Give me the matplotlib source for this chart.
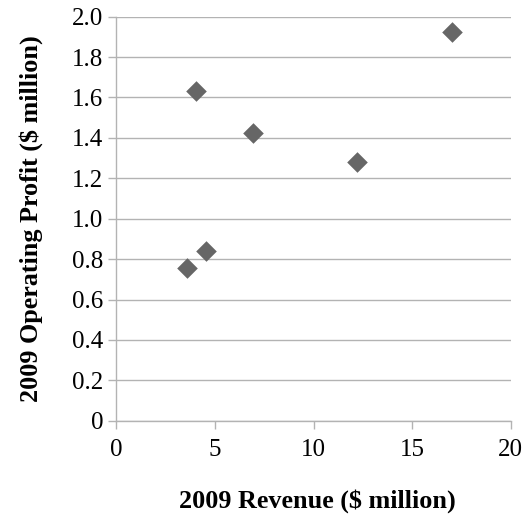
import matplotlib
matplotlib.use("Agg")
import matplotlib.pyplot as plt

revenue = [3.60, 4.55, 4.06, 6.95, 12.22, 17.02]
profit = [0.756, 0.842, 1.632, 1.424, 1.282, 1.923]
x_ticks = [0, 5, 10, 15, 20]
y_ticks = [0, 0.2, 0.4, 0.6, 0.8, 1.0, 1.2, 1.4, 1.6, 1.8, 2.0]
y_tick_labels = ["0", "0.2", "0.4", "0.6", "0.8", "1.0", "1.2", "1.4", "1.6", "1.8", "2.0"]

plt.rcParams['font.family'] = ['Liberation Serif', 'DejaVu Serif']

fig = plt.figure(figsize=(5.31, 5.32), dpi=100)
ax = fig.add_axes([116.3 / 531, 1 - 420.7 / 532, (510.7 - 116.3) / 531, (420.7 - 16.7) / 532])

ax.scatter(revenue, profit, marker='D', s=110, color='#666666', zorder=3, linewidths=0)

ax.set_xlim(0, 20)
ax.set_ylim(0, 2.0)
ax.set_xticks(x_ticks)
ax.set_xticklabels([str(t) for t in x_ticks])
ax.set_yticks(y_ticks)
ax.set_yticklabels(y_tick_labels)

ax.grid(axis='y', color='#b3b3b3', linewidth=1.0, zorder=0)
ax.set_axisbelow(True)
for side in ['top', 'right']:
    ax.spines[side].set_visible(False)
for side in ['left', 'bottom']:
    ax.spines[side].set_color('#b3b3b3')
    ax.spines[side].set_linewidth(1.0)

ax.tick_params(axis='both', colors='#b3b3b3', labelcolor='black', labelsize=18,
               length=5.5, width=1.0, direction='out')
ax.tick_params(axis='x', pad=8)
ax.tick_params(axis='y', pad=4)

ax.set_xlabel('2009 Revenue ($ million)', fontsize=18.8, fontweight='bold', labelpad=20)
ax.xaxis.label.set_x(0.51)
ax.set_ylabel('2009 Operating Profit ($ million)', fontsize=18.8, fontweight='bold', labelpad=21)

fig.savefig('out.png', dpi=100)
